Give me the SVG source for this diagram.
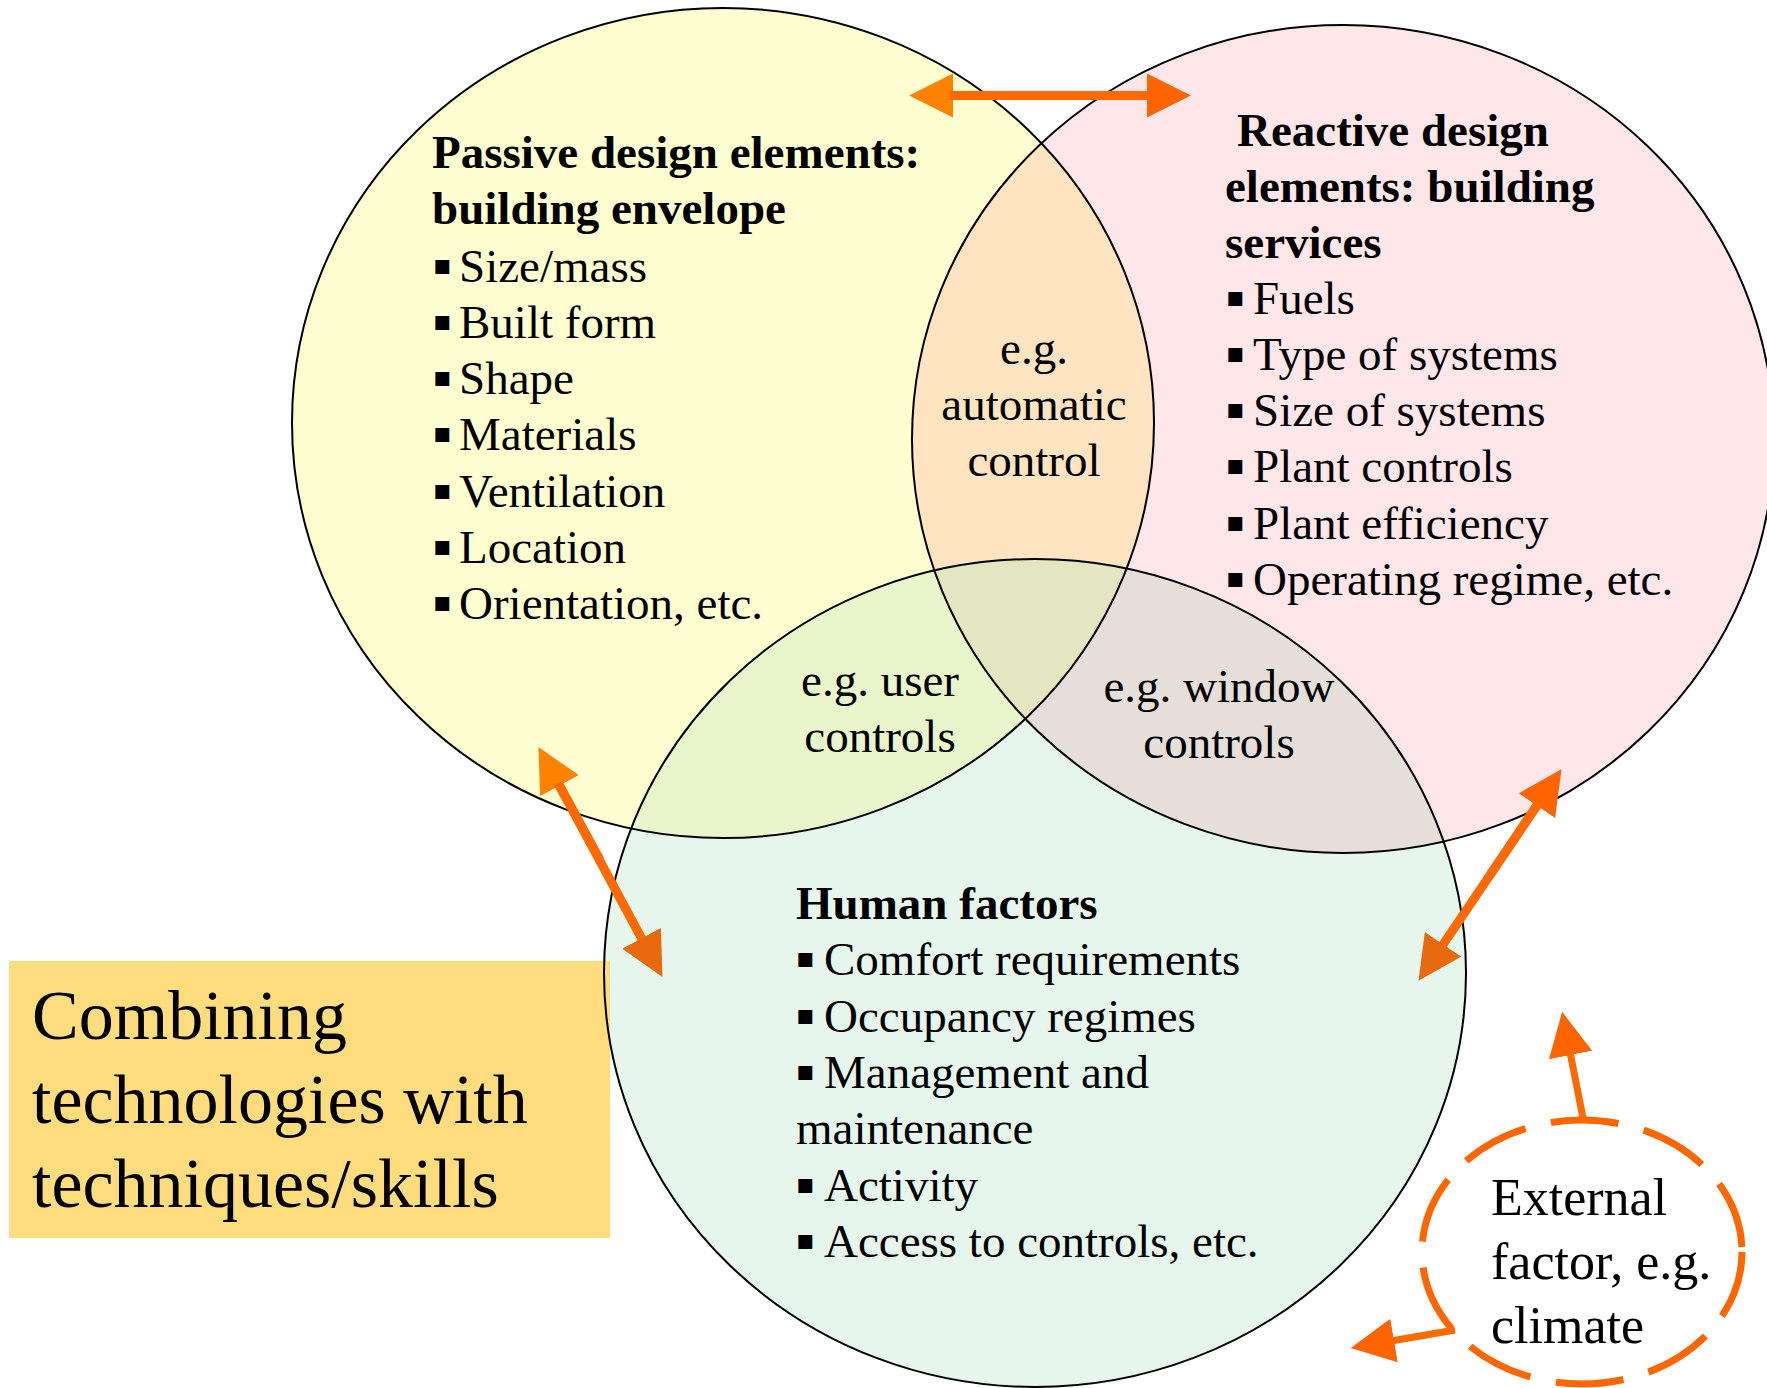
<svg xmlns="http://www.w3.org/2000/svg" xmlns:xlink="http://www.w3.org/1999/xlink" width="1767" height="1388" viewBox="0 0 1767 1388">
<style>
.t{font-family:"Liberation Serif","Times New Roman",serif;font-size:47px;fill:#000}
.h{font-weight:bold}
.c{text-anchor:middle}
.b{font-family:"DejaVu Sans",sans-serif;font-size:28px}
.big{font-family:"Liberation Serif","Times New Roman",serif;font-size:70px;fill:#000}
.ext{font-family:"Liberation Serif","Times New Roman",serif;font-size:52px;fill:#000}
.outline{fill:none;stroke:#000;stroke-width:2}
.shaft{fill:none;stroke:#FF6A00;stroke-width:9}
.shaft2{fill:none;stroke:#FF6A00;stroke-width:7}
</style>
<defs>
<ellipse id="cY" cx="723" cy="423" rx="431" ry="415"/>
<ellipse id="cP" cx="1343" cy="439" rx="431" ry="414"/>
<ellipse id="cG" cx="1035" cy="973" rx="431" ry="414"/>
<clipPath id="clipY"><use xlink:href="#cY"/></clipPath>
<clipPath id="clipP"><use xlink:href="#cP"/></clipPath>
<marker id="ahA" markerUnits="userSpaceOnUse" markerWidth="44" markerHeight="44" viewBox="0 0 43 43" refX="3" refY="21.5" orient="auto"><path d="M0,0 L43,21.5 L0,43 z" fill="#FF8200"/></marker>
<marker id="ahB" markerUnits="userSpaceOnUse" markerWidth="44" markerHeight="44" viewBox="0 0 43 43" refX="3" refY="21.5" orient="auto"><path d="M0,0 L43,21.5 L0,43 z" fill="#FF6400"/></marker>
<marker id="ahC" markerUnits="userSpaceOnUse" markerWidth="44" markerHeight="44" viewBox="0 0 43 43" refX="3" refY="21.5" orient="auto"><path d="M0,0 L43,21.5 L0,43 z" fill="#E96A0C"/></marker>
</defs>
<rect width="1767" height="1388" fill="#fff"/>
<g id="regions">
<use xlink:href="#cY" fill="#FEFED1"/>
<use xlink:href="#cP" fill="#FFE6E8"/>
<use xlink:href="#cG" fill="#E6F6EC"/>
<g clip-path="url(#clipY)"><use xlink:href="#cP" fill="#FFE4C2"/></g>
<g clip-path="url(#clipY)"><use xlink:href="#cG" fill="#E9F5CB"/></g>
<g clip-path="url(#clipP)"><use xlink:href="#cG" fill="#E6DFD9"/></g>
<g clip-path="url(#clipY)"><g clip-path="url(#clipP)"><use xlink:href="#cG" fill="#E4E5C1"/></g></g>
</g>
<g id="combining-box">
<rect x="9" y="961" width="601" height="277" fill="#FFDC7E"/>
<text class="big" x="32" y="1039">Combining</text>
<text class="big" x="32" y="1123">technologies with</text>
<text class="big" x="32" y="1207">techniques/skills</text>
</g>
<g id="passive">
<use xlink:href="#cY" class="outline"/>
<text class="t h" x="432" y="168">Passive design elements:</text>
<text class="t h" x="432" y="224">building envelope</text>
<text class="t" y="282"><tspan class="b" x="433" dy="-8">▪</tspan><tspan x="459" dy="8">Size/mass</tspan></text>
<text class="t" y="338"><tspan class="b" x="433" dy="-8">▪</tspan><tspan x="459" dy="8">Built form</tspan></text>
<text class="t" y="394"><tspan class="b" x="433" dy="-8">▪</tspan><tspan x="459" dy="8">Shape</tspan></text>
<text class="t" y="450"><tspan class="b" x="433" dy="-8">▪</tspan><tspan x="459" dy="8">Materials</tspan></text>
<text class="t" y="507"><tspan class="b" x="433" dy="-8">▪</tspan><tspan x="459" dy="8">Ventilation</tspan></text>
<text class="t" y="563"><tspan class="b" x="433" dy="-8">▪</tspan><tspan x="459" dy="8">Location</tspan></text>
<text class="t" y="619"><tspan class="b" x="433" dy="-8">▪</tspan><tspan x="459" dy="8">Orientation, etc.</tspan></text>
</g>
<g id="reactive">
<use xlink:href="#cP" class="outline"/>
<text class="t h" x="1237" y="146">Reactive design</text>
<text class="t h" x="1225" y="202">elements: building</text>
<text class="t h" x="1225" y="258">services</text>
<text class="t" y="314"><tspan class="b" x="1226" dy="-8">▪</tspan><tspan x="1253" dy="8">Fuels</tspan></text>
<text class="t" y="370"><tspan class="b" x="1226" dy="-8">▪</tspan><tspan x="1253" dy="8">Type of systems</tspan></text>
<text class="t" y="426"><tspan class="b" x="1226" dy="-8">▪</tspan><tspan x="1253" dy="8">Size of systems</tspan></text>
<text class="t" y="482"><tspan class="b" x="1226" dy="-8">▪</tspan><tspan x="1253" dy="8">Plant controls</tspan></text>
<text class="t" y="539"><tspan class="b" x="1226" dy="-8">▪</tspan><tspan x="1253" dy="8">Plant efficiency</tspan></text>
<text class="t" y="595"><tspan class="b" x="1226" dy="-8">▪</tspan><tspan x="1253" dy="8">Operating regime, etc.</tspan></text>
</g>
<g id="human">
<use xlink:href="#cG" class="outline"/>
<text class="t h" x="796" y="919">Human factors</text>
<text class="t" y="975"><tspan class="b" x="796" dy="-8">▪</tspan><tspan x="824" dy="8">Comfort requirements</tspan></text>
<text class="t" y="1032"><tspan class="b" x="796" dy="-8">▪</tspan><tspan x="824" dy="8">Occupancy regimes</tspan></text>
<text class="t" y="1088"><tspan class="b" x="796" dy="-8">▪</tspan><tspan x="824" dy="8">Management and</tspan></text>
<text class="t" x="796" y="1144">maintenance</text>
<text class="t" y="1201"><tspan class="b" x="796" dy="-8">▪</tspan><tspan x="824" dy="8">Activity</tspan></text>
<text class="t" y="1257"><tspan class="b" x="796" dy="-8">▪</tspan><tspan x="824" dy="8">Access to controls, etc.</tspan></text>
</g>
<g id="overlap-automatic">
<text class="t c" x="1034" y="364">e.g.</text>
<text class="t c" x="1034" y="420">automatic</text>
<text class="t c" x="1034" y="476">control</text>
</g>
<g id="overlap-user">
<text class="t c" x="880" y="696">e.g. user</text>
<text class="t c" x="880" y="752">controls</text>
</g>
<g id="overlap-window">
<text class="t c" x="1219" y="702">e.g. window</text>
<text class="t c" x="1219" y="758">controls</text>
</g>
<g id="external">
<ellipse cx="1582" cy="1252" rx="160" ry="132" fill="none" stroke="#FF6600" stroke-width="7" stroke-dasharray="68 26"/>
<text class="ext" x="1491" y="1215">External</text>
<text class="ext" x="1491" y="1279">factor, e.g.</text>
<text class="ext" x="1491" y="1343">climate</text>
</g>
<g id="connectors">
<path class="shaft" d="M1000,95.5 L950,95.5" marker-end="url(#ahA)"/>
<path class="shaft" d="M950,95.5 L1150,95.5" marker-end="url(#ahB)"/>
<path class="shaft" d="M600,860 L558,783" marker-end="url(#ahA)"/>
<path class="shaft" d="M558,783 L643,941" marker-end="url(#ahC)"/>
<path class="shaft" d="M1490,875 L1538.6,803.1" marker-end="url(#ahB)"/>
<path class="shaft" d="M1538.6,803.1 L1441.4,946.9" marker-end="url(#ahC)"/>
<path class="shaft2" d="M1583,1118 L1570,1052" marker-end="url(#ahB)"/>
<path class="shaft2" d="M1455,1330 L1391,1341" marker-end="url(#ahB)"/>
</g>
</svg>
